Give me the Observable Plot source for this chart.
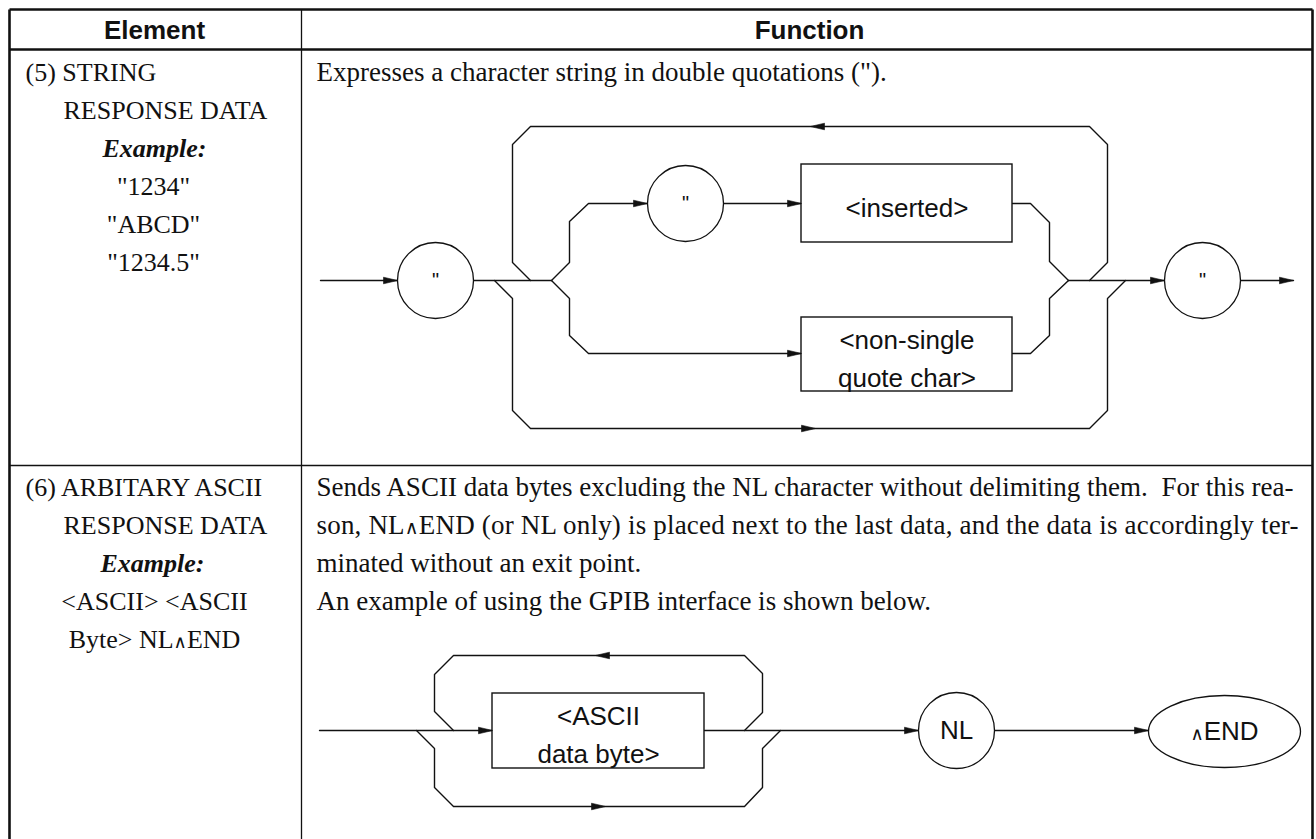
<!DOCTYPE html>
<html>
<head>
<meta charset="utf-8">
<script src="https://cdn.jsdelivr.net/npm/d3@7"></script>
<script src="https://cdn.jsdelivr.net/npm/@observablehq/plot@0.6"></script>
<style>
  html, body { margin: 0; padding: 0; background: #fff; }
  #chart svg { display: block; }
</style>
</head>
<body>
<div id="chart"></div>
<script>
const W = 1316, H = 839;

// ---- table structure ----
const tableFrame = [
  {x1: 9, y1: 9, x2: 1312, y2: 9},
  {x1: 9, y1: 9, x2: 9, y2: 839},
  {x1: 1312, y1: 9, x2: 1312, y2: 839},
  {x1: 9, y1: 49, x2: 1312, y2: 49}
];
const tableRules = [
  {x1: 301, y1: 9, x2: 301, y2: 839},
  {x1: 9, y1: 465, x2: 1312, y2: 465}
];
const headers = [
  {text: "Element", x: 154, y: 30},
  {text: "Function", x: 809, y: 30}
];

// ---- Element column ----
const elementNames = [
  {text: "(5) STRING", x: 25, y: 72},
  {text: "RESPONSE DATA", x: 63, y: 110},
  {text: "(6) ARBITARY ASCII", x: 25, y: 487},
  {text: "RESPONSE DATA", x: 63, y: 525}
];
const exampleLabels = [
  {text: "Example:", x: 154, y: 148},
  {text: "Example:", x: 152, y: 563}
];
const exampleValues = [
  {text: "\"1234\"", x: 153, y: 186},
  {text: "\"ABCD\"", x: 153, y: 224},
  {text: "\"1234.5\"", x: 153, y: 262},
  {text: "<ASCII> <ASCII", x: 154, y: 601},
  {text: "Byte> NL\u2227END", x: 154, y: 639}
];

// ---- Function column ----
const functionLines = [
  {text: "Expresses a character string in double quotations (\").", x: 316, y: 72}
];
const justifiedLines = [
  {text: "Sends ASCII data bytes excluding the NL character without delimiting them.  For this rea-", x: 316, y: 487},
  {text: "son, NL\u2227END (or NL only) is placed next to the last data, and the data is accordingly ter-", x: 316, y: 525}
];
const justifiedRight = [1293, 1298];
const plainLines = [
  {text: "minated without an exit point.", x: 316, y: 563},
  {text: "An example of using the GPIB interface is shown below.", x: 316, y: 601}
];

// ---- syntax diagrams ----
const rails = [
  {id: "d1-in",   pts: [[320, 280], [397, 280]]},
  {id: "d1-q1",   pts: [[473, 280], [551, 280]]},
  {id: "d1-skip", pts: [[494, 280], [512, 298], [512, 410], [530, 428], [1089, 428], [1107, 410], [1107, 298], [1125, 280]]},
  {id: "d1-loop", pts: [[530, 280], [512, 262], [512, 144], [530, 126], [1089, 126], [1107, 144], [1107, 262], [1089, 280]]},
  {id: "d1-up",   pts: [[551, 280], [569, 262], [569, 221], [588, 203], [647, 203]]},
  {id: "d1-q2",   pts: [[723, 203], [801, 203]]},
  {id: "d1-ins",  pts: [[1012, 203], [1030, 203], [1049, 222], [1049, 261], [1068, 280]]},
  {id: "d1-down", pts: [[551, 280], [569, 298], [569, 335], [588, 353], [801, 353]]},
  {id: "d1-non",  pts: [[1012, 353], [1030, 353], [1049, 335], [1049, 298], [1068, 280]]},
  {id: "d1-out",  pts: [[1068, 280], [1164, 280]]},
  {id: "d1-exit", pts: [[1240, 280], [1293, 280]]},
  {id: "d2-in",   pts: [[319, 730], [492, 730]]},
  {id: "d2-loop", pts: [[453, 730], [434, 711], [434, 674], [453, 655], [744, 655], [762, 673], [762, 712], [744, 730]]},
  {id: "d2-skip", pts: [[416, 730], [434, 748], [434, 787], [453, 806], [744, 806], [762, 787], [762, 748], [780, 730]]},
  {id: "d2-nl",   pts: [[704, 730], [918, 730]]},
  {id: "d2-end",  pts: [[994, 730], [1148, 730]]}
];
const arrowTips = [
  {x: 397, y: 280, angle: 0}, {x: 647, y: 203, angle: 0}, {x: 801, y: 203, angle: 0},
  {x: 801, y: 353, angle: 0}, {x: 810, y: 126, angle: 180}, {x: 815, y: 428, angle: 0},
  {x: 1164, y: 280, angle: 0}, {x: 1293, y: 280, angle: 0},
  {x: 492, y: 730, angle: 0}, {x: 595, y: 655, angle: 180}, {x: 605, y: 806, angle: 0},
  {x: 918, y: 730, angle: 0}, {x: 1148, y: 730, angle: 0}
];
const quoteNodes = [
  {label: "\"", x: 435, y: 280},
  {label: "\"", x: 685, y: 203},
  {label: "\"", x: 1202, y: 280}
];
const nlNodes = [ {label: "NL", x: 956, y: 730} ];
const endNodes = [ {label: "\u2227END", x: 1224, y: 731} ];
const boxes = [
  {label: "<inserted>", x1: 801, x2: 1012, y1: 164, y2: 242},
  {label: "<non-single\nquote char>", x1: 801, x2: 1012, y1: 317, y2: 391},
  {label: "<ASCII\ndata byte>", x1: 492, x2: 704, y1: 693, y2: 768}
];

const railRows = rails.flatMap(r => r.pts.map(([x, y]) => ({id: r.id, x, y})));

// custom symbols (drawn in pixel space)
const arrowHead = {
  draw(ctx) { ctx.moveTo(0, 0); ctx.lineTo(-14, -3.3); ctx.lineTo(-14, 3.3); ctx.closePath(); }
};
const ovalShape = {
  draw(ctx) {
    const rx = 76, ry = 36, k = 0.5523;
    ctx.moveTo(rx, 0);
    ctx.bezierCurveTo(rx, ry * k, rx * k, ry, 0, ry);
    ctx.bezierCurveTo(-rx * k, ry, -rx, ry * k, -rx, 0);
    ctx.bezierCurveTo(-rx, -ry * k, -rx * k, -ry, 0, -ry);
    ctx.bezierCurveTo(rx * k, -ry, rx, -ry * k, rx, 0);
    ctx.closePath();
  }
};

const serif = "'Liberation Serif', 'Times New Roman', Times, serif";
const sans = "'Liberation Sans', Arial, Helvetica, sans-serif";
const ink = "#111";
const leftSize = 26;
const bodySize = 27;

const chart = Plot.plot({
  width: W, height: H, margin: 0,
  x: {domain: [0, W], range: [0, W], axis: null},
  y: {domain: [0, H], range: [0, H], axis: null},
  style: {background: "#fff", color: ink, overflow: "visible"},
  marks: [
    Plot.link(tableFrame, {x1: "x1", y1: "y1", x2: "x2", y2: "y2", stroke: ink, strokeWidth: 2.6}),
    Plot.link(tableRules, {x1: "x1", y1: "y1", x2: "x2", y2: "y2", stroke: ink, strokeWidth: 1.3}),
    Plot.line(railRows, {x: "x", y: "y", z: "id", stroke: ink, strokeWidth: 1.4}),
    Plot.rect(boxes, {x1: "x1", x2: "x2", y1: "y1", y2: "y2", fill: "#fff", stroke: ink, strokeWidth: 1.4}),
    Plot.dot(quoteNodes, {x: "x", y: "y", r: 38, fill: "#fff", stroke: ink, strokeWidth: 1.3}),
    Plot.dot(nlNodes, {x: "x", y: "y", r: 38, fill: "#fff", stroke: ink, strokeWidth: 1.3}),
    Plot.dot(endNodes, {x: "x", y: "y", symbol: ovalShape, fill: "#fff", stroke: ink, strokeWidth: 1.3}),
    Plot.dot(arrowTips, {x: "x", y: "y", rotate: "angle", symbol: arrowHead, fill: ink, stroke: ink, strokeWidth: 0.6}),
    Plot.text(boxes, {x: d => (d.x1 + d.x2) / 2, y: d => (d.y1 + d.y2) / 2 + 1, text: "label", fontFamily: sans, fontSize: 26, lineHeight: 1.46, fill: ink}),
    Plot.text(quoteNodes, {x: "x", y: "y", text: "label", fontFamily: sans, fontSize: 20, fill: ink}),
    Plot.text(nlNodes, {x: "x", y: "y", text: "label", fontFamily: sans, fontSize: 26, fill: ink}),
    Plot.text(endNodes, {x: "x", y: "y", text: "label", fontFamily: sans, fontSize: 26, fill: ink}),
    Plot.text(headers, {x: "x", y: "y", text: "text", fontFamily: sans, fontWeight: "bold", fontSize: 26, fill: ink}),
    Plot.text(elementNames, {x: "x", y: "y", text: "text", textAnchor: "start", fontFamily: serif, fontSize: leftSize, fill: ink}),
    Plot.text(exampleLabels, {x: "x", y: "y", text: "text", fontFamily: serif, fontWeight: "bold", fontStyle: "italic", fontSize: leftSize, fill: ink}),
    Plot.text(exampleValues, {x: "x", y: "y", text: "text", fontFamily: serif, fontSize: leftSize, fill: ink}),
    Plot.text(functionLines, {x: "x", y: "y", text: "text", textAnchor: "start", fontFamily: serif, fontSize: bodySize, fill: ink}),
    Plot.text(justifiedLines, {x: "x", y: "y", text: "text", textAnchor: "start", fontFamily: serif, fontSize: bodySize, fill: ink}),
    Plot.text(plainLines, {x: "x", y: "y", text: "text", textAnchor: "start", fontFamily: serif, fontSize: bodySize, fill: ink})
  ]
});

document.getElementById("chart").appendChild(chart);

// justify the first two paragraph lines to the right margin
const allTexts = Array.from(chart.querySelectorAll("text"));
justifiedLines.forEach((line, i) => {
  const t = allTexts.find(el => el.textContent === line.text);
  if (t) {
    t.setAttribute("textLength", justifiedRight[i] - line.x);
    t.setAttribute("lengthAdjust", "spacing");
  }
});

// typeset the logical-and sign small, as in the printed manual
const NS = "http://www.w3.org/2000/svg";
allTexts.forEach(t => {
  if (t.children.length === 0 && t.textContent.includes("\u2227")) {
    const parts = t.textContent.split("\u2227");
    t.textContent = "";
    parts.forEach((p, i) => {
      if (i > 0) {
        const s = document.createElementNS(NS, "tspan");
        s.setAttribute("font-size", "0.7em");
        s.setAttribute("font-family", "'DejaVu Sans', sans-serif");
        s.textContent = "\u2227";
        t.appendChild(s);
      }
      t.appendChild(document.createTextNode(p));
    });
  }
});
</script>
</body>
</html>
